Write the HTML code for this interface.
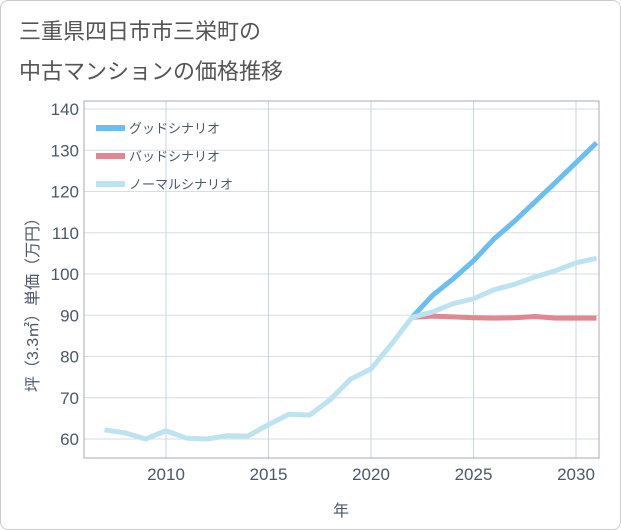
<!DOCTYPE html>
<html><head><meta charset="utf-8"><style>
body{margin:0;background:#fff;font-family:"Liberation Sans","Noto Sans CJK JP",sans-serif;}
#wrap{position:relative;width:619px;height:528px;border:1px solid #ccc;border-radius:8px;overflow:hidden;}
</style></head><body>
<div id="wrap">
<svg id="c" width="621" height="530">
<text x="18" y="38" font-size="22" fill="#555">三重県四日市市三栄町の</text>
<text x="18" y="78" font-size="22" fill="#555">中古マンションの価格推移</text>
<g id="grid"></g><g id="lines"></g>
<text transform="translate(37,300) rotate(-90)" text-anchor="middle" font-size="16" fill="#4a5868">坪（3.3㎡）単価（万円）</text>
<text x="340" y="515" text-anchor="middle" font-size="16" fill="#4a5868">年</text>
</svg></div>
<script>
const years=[2007,2008,2009,2010,2011,2012,2013,2014,2015,2016,2017,2018,2019,2020,2021,2022,2023,2024,2025,2026,2027,2028,2029,2030,2031];
const normal=[62.2,61.5,60,62,60.2,60,60.8,60.7,63.5,66,65.8,69.5,74.5,77,83,89.5,90.8,92.8,94,96.2,97.5,99.3,100.8,102.7,103.8];
const goodYears=[2022,2023,2024,2025,2026,2027,2028,2029,2030,2031];
const good=[89.5,94.8,98.8,103.2,108.5,112.8,117.5,122.2,127,131.8];
const bad=[89.5,89.8,89.6,89.4,89.3,89.4,89.7,89.3,89.3,89.3];
const yTicks=[60,70,80,90,100,110,120,130,140];
const xTicks=[2010,2015,2020,2025,2030];
const NS='http://www.w3.org/2000/svg';
const L=83,R=598,T=100,B=457;
const X=v=>165+(v-2010)*20.5, Y=v=>438-(v-60)*4.125;
function mk(t,a,p){const e=document.createElementNS(NS,t);for(const k in a)e.setAttribute(k,a[k]);p.appendChild(e);return e;}
const g=document.getElementById('grid'),ln=document.getElementById('lines');
yTicks.forEach(v=>{const l=mk('line',{x1:L,x2:R,y1:Y(v),y2:Y(v),stroke:'#d5dde6'},g);

const t=mk('text',{x:L-5,y:Y(v)+6,'text-anchor':'end','font-size':17,fill:'#4a5868'},g);t.textContent=v;
});
for(let y=2006;y<=2031;y++){if(y%5==0){const l=mk('line',{x1:X(y),x2:X(y),y1:T,y2:B,stroke:'#c8d6e4'},g);
}}
xTicks.forEach(v=>{const t=mk('text',{x:X(v),y:479,'text-anchor':'middle','font-size':17,fill:'#4a5868'},g);t.textContent=v;
});
const fr=mk('rect',{x:L,y:T,width:R-L,height:B-T,fill:'none',stroke:'#aab'},g);

function path(xs,ys,col,name){const d=xs.map((x,i)=>(i?'L':'M')+X(x)+','+Y(ys[i])).join('');
const p=mk('path',{d:d,fill:'none',stroke:col,'stroke-width':5,'stroke-linejoin':'round'},ln);
}
path(goodYears,bad,'#e08890','bad-scenario-line');
path(goodYears,good,'#6bbef2','good-scenario-line');
path(years,normal,'#bde2f0','normal-scenario-line');
const leg=[['グッドシナリオ','#6bbef2',127],['バッドシナリオ','#e08890',155],['ノーマルシナリオ','#bde2f0',183]];
leg.forEach(e=>{const r=mk('rect',{x:95,y:e[2]-3,width:29,height:6,fill:e[1]},ln);

const t=mk('text',{x:128,y:e[2]+5,'font-size':13,fill:'#4a5868'},ln);t.textContent=e[0];
});
</script></body></html>
